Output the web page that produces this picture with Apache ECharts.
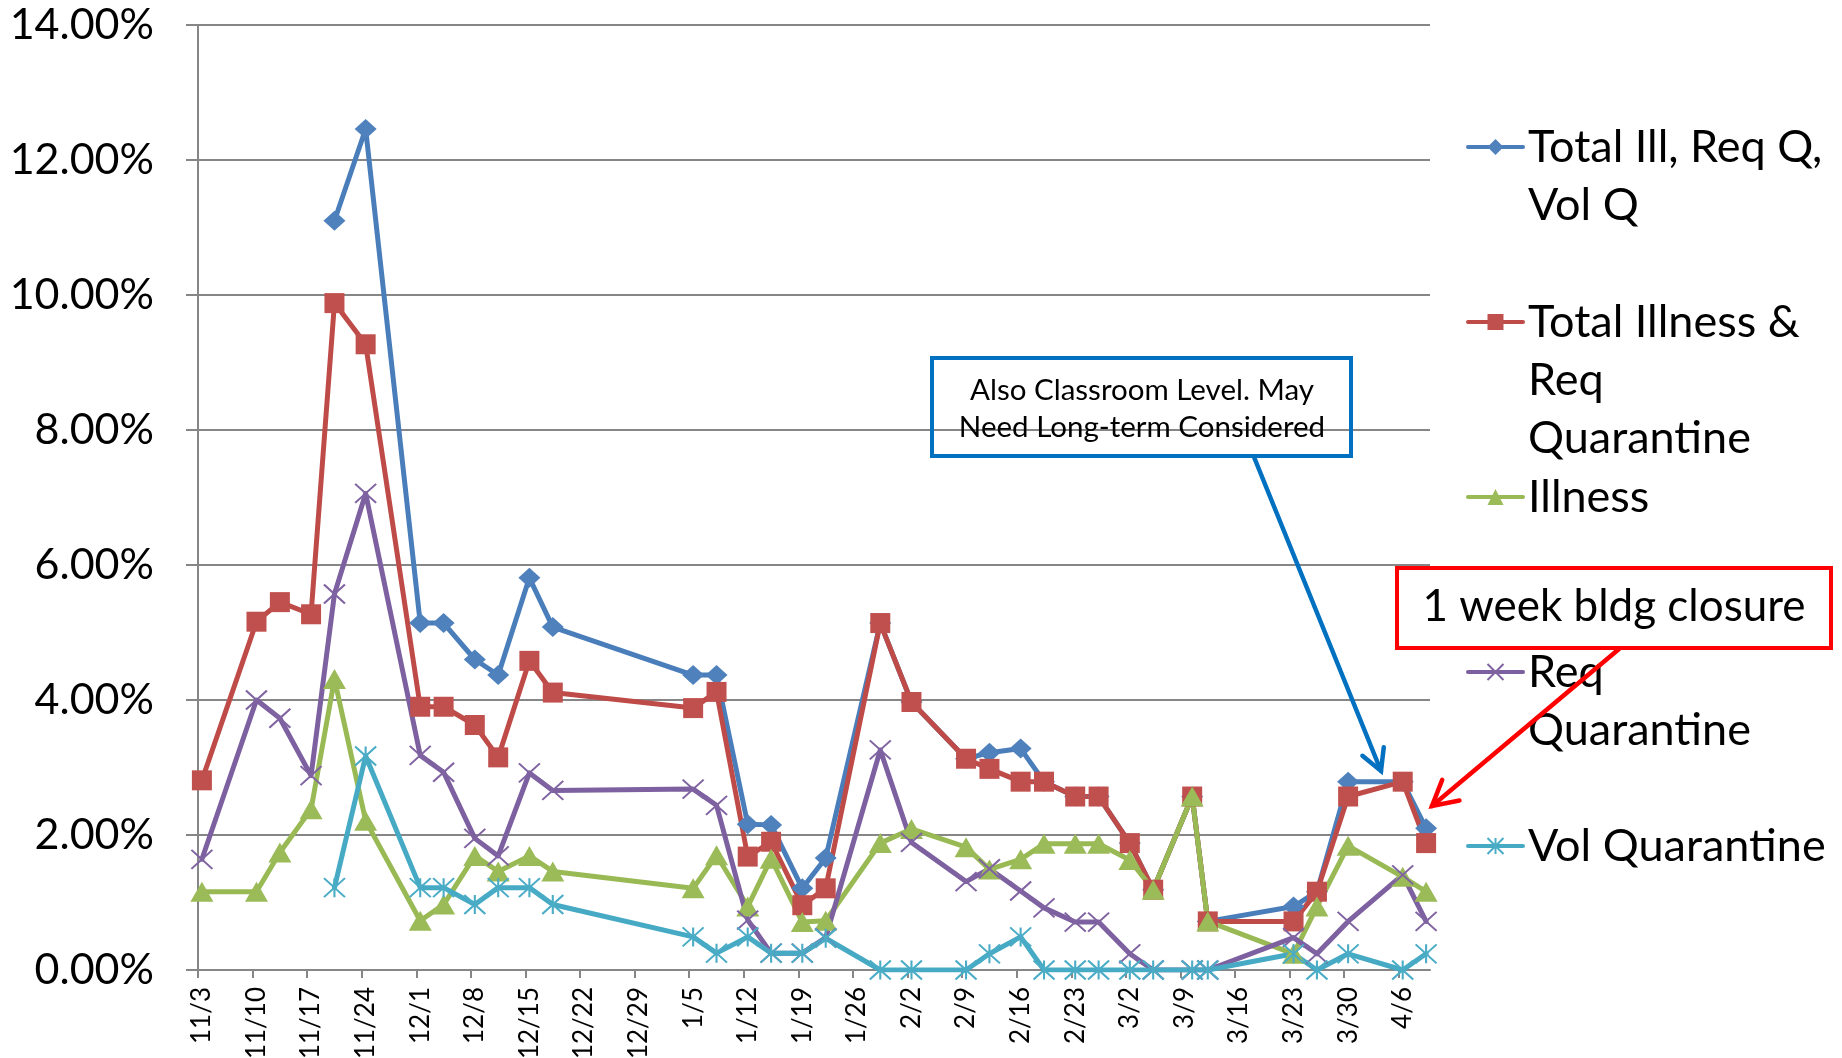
<!DOCTYPE html>
<html><head><meta charset="utf-8">
<script src="https://cdn.jsdelivr.net/npm/echarts@6/dist/echarts.min.js"></script>
<style>html,body{margin:0;padding:0;background:#fff}#c{width:1842px;height:1058px}</style>
</head><body><div id="c"></div>
<script>
// ---- data (percent) ----
const dates = ['11/3','11/10','11/13','11/17','11/20','11/24','12/1','12/4','12/8','12/11','12/15','12/18','1/5','1/8','1/12','1/15','1/19','1/22','1/29','2/2','2/9','2/12','2/16','2/19','2/23','2/26','3/2','3/5','3/10','3/12','3/23','3/26','3/30','4/6','4/9'];
const totalIllReqVol = [null,null,null,null,11.10,12.46,5.14,5.14,4.60,4.37,5.81,5.08,4.37,4.37,2.16,2.15,1.21,1.66,5.14,3.97,3.13,3.22,3.28,2.79,2.57,2.57,1.88,1.19,2.57,0.72,0.94,1.16,2.79,2.79,2.10];
const totalIllReq = [2.81,5.16,5.45,5.27,9.88,9.27,3.90,3.90,3.63,3.15,4.58,4.11,3.88,4.12,1.68,1.90,0.96,1.21,5.14,3.97,3.13,2.98,2.79,2.79,2.57,2.57,1.88,1.19,2.57,0.72,0.72,1.16,2.57,2.79,1.88];
const illness = [1.16,1.16,1.74,2.38,4.31,2.21,0.73,0.97,1.69,1.46,1.69,1.46,1.21,1.70,0.94,1.65,0.71,0.73,1.88,2.09,1.82,1.49,1.64,1.87,1.87,1.87,1.63,1.19,2.57,0.72,0.24,0.94,1.84,1.38,1.16];
const reqQuarantine = [1.64,4.00,3.73,2.88,5.57,7.06,3.18,2.93,1.95,1.69,2.92,2.66,2.68,2.44,0.74,0.25,0.25,0.48,3.26,1.89,1.31,1.50,1.17,0.92,0.71,0.71,0.24,0,0,0,0.48,0.24,0.72,1.41,0.72];
const volQuarantine = [null,null,null,null,1.22,3.17,1.22,1.22,0.97,1.22,1.22,0.97,0.49,0.25,0.49,0.25,0.25,0.47,0,0,0,0.24,0.49,0,0,0,0,0,0,0,0.24,0,0.24,0,0.24];
const tickLabels = ['11/3','11/10','11/17','11/24','12/1','12/8','12/15','12/22','12/29','1/5','1/12','1/19','1/26','2/2','2/9','2/16','2/23','3/2','3/9','3/16','3/23','3/30','4/6'];
const seriesNames = ['Total Ill, Req Q, Vol Q','Total Illness & Req Quarantine','Illness','Req Quarantine','Vol Quarantine'];
const legendTexts = ['Total Ill, Req Q,\nVol Q','Total Illness &\nReq\nQuarantine','Illness','Req\nQuarantine','Vol Quarantine'];
const note1 = ['Also Classroom Level. May','Need Long-term Considered'];
const note2 = '1 week bldg closure';

// ---- helpers ----
function dayIndex(s){const p=s.split('/').map(Number);const y=p[0]>=8?2020:2021;return Math.round((Date.UTC(y,p[0]-1,p[1])-Date.UTC(2020,10,3))/864e5);}
const xMax = dayIndex(dates[dates.length-1]) + 1;
const tickVals = tickLabels.map(dayIndex);
const labelVals = tickVals.map(v=>v+0.5);
function pts(arr){return dates.map((d,i)=>[dayIndex(d)+0.5, arr[i]]);}

const lineCols = ['#4A7EBB','#BE4B48','#98B954','#7D60A0','#46AAC5'];
const markCols = ['#4F81BD','#C0504D','#9BBB59','#8064A2','#4BACC6'];
const symbols = ['diamond','rect','triangle','path://M0,0L10,10M10,0L0,10','path://M0,0L10,10M10,0L0,10M5,0L5,10'];
const symSizes = [[22,20],[20,20],[23,20],[21,19],[21,19]];
const allData = [totalIllReqVol,totalIllReq,illness,reqQuarantine,volQuarantine];

const FONT = 'Lato, "Open Sans", sans-serif';
const LH = 58;
const legendFirstLineY = [147, 322, 497, 672, 846];

function arrow(x1,y1,x2,y2,color,w,L){
  const a=Math.atan2(y2-y1,x2-x1), s=0.5;
  return [
    {type:'line',z:100,shape:{x1:x1,y1:y1,x2:x2,y2:y2},style:{stroke:color,lineWidth:w,lineCap:'round'}},
    {type:'polyline',z:100,shape:{points:[[x2-L*Math.cos(a-s),y2-L*Math.sin(a-s)],[x2,y2],[x2-L*Math.cos(a+s),y2-L*Math.sin(a+s)]]},style:{stroke:color,lineWidth:w,fill:null,lineJoin:'miter',lineCap:'round'}}
  ];
}

const chart = echarts.init(document.getElementById('c'), null, {renderer:'canvas'});
chart.setOption({
  animation:false,
  backgroundColor:'#ffffff',
  grid:{left:198,right:412,top:25,bottom:88,containLabel:false,outerBoundsMode:'none'},
  xAxis:{type:'value',min:0,max:xMax,
    axisLine:{show:true,onZero:false,lineStyle:{color:'#868686',width:2}},
    axisTick:{show:true,customValues:tickVals,length:8,lineStyle:{color:'#868686',width:2}},
    axisLabel:{customValues:labelVals,rotate:90,margin:17,fontSize:26,fontFamily:FONT,color:'#000',
      formatter:v=>tickLabels[Math.floor(v/7)]||''},
    splitLine:{show:false}},
  yAxis:{type:'value',min:0,max:14,interval:2,
    axisLine:{show:true,lineStyle:{color:'#868686',width:2}},
    axisTick:{show:true,length:12,lineStyle:{color:'#868686',width:2}},
    axisLabel:{margin:44,fontSize:43,fontFamily:FONT,color:'#000',formatter:v=>v.toFixed(2)+'%'},
    splitLine:{show:true,lineStyle:{color:'#868686',width:2}}},
  legend: seriesNames.map((n,i)=>{
    const nl = legendTexts[i].split('\n').length;
    const text = '\n'.repeat(nl-1) + legendTexts[i];
    const tot = 2*nl-1;
    return {data:[n],orient:'vertical',left:1466,top:legendFirstLineY[i]-tot*LH/2,padding:0,
      itemWidth:55,itemHeight:20,selectedMode:false,formatter:()=>text,
      lineStyle:{width:4},
      textStyle:{fontSize:45,lineHeight:LH,fontFamily:FONT,color:'#000'}};
  }),
  series: allData.map((arr,i)=>({
    name:seriesNames[i],type:'line',data:pts(arr),
    symbol:symbols[i],symbolSize:symSizes[i],showAllSymbol:true,
    lineStyle:{color:lineCols[i],width:5,cap:'round',join:'round'},
    itemStyle:{color:markCols[i],borderColor:markCols[i],borderWidth:(i>=3?2:0)},
    emphasis:{disabled:true}
  })),
  graphic: [
    {type:'rect',z:100,shape:{x:932,y:358,width:419,height:98},style:{fill:null,stroke:'#0070C0',lineWidth:4}},
    {type:'text',z:100,x:1142,y:390,style:{text:note1[0],fontSize:29.5,fontFamily:FONT,fill:'#000',align:'center',verticalAlign:'middle'}},
    {type:'text',z:100,x:1142,y:427,style:{text:note1[1],fontSize:29.5,fontFamily:FONT,fill:'#000',align:'center',verticalAlign:'middle'}},
    ...arrow(1254,457,1381,771,'#0070C0',4.5,24),
    {type:'rect',z:100,shape:{x:1397,y:568,width:434,height:80},style:{fill:'#ffffff',stroke:'#FF0000',lineWidth:4}},
    {type:'text',z:101,x:1614,y:607,style:{text:note2,fontSize:44,fontFamily:FONT,fill:'#000',align:'center',verticalAlign:'middle'}},
    ...arrow(1619,649,1432,806,'#FF0000',4.5,28)
  ]
});
</script></body></html>
